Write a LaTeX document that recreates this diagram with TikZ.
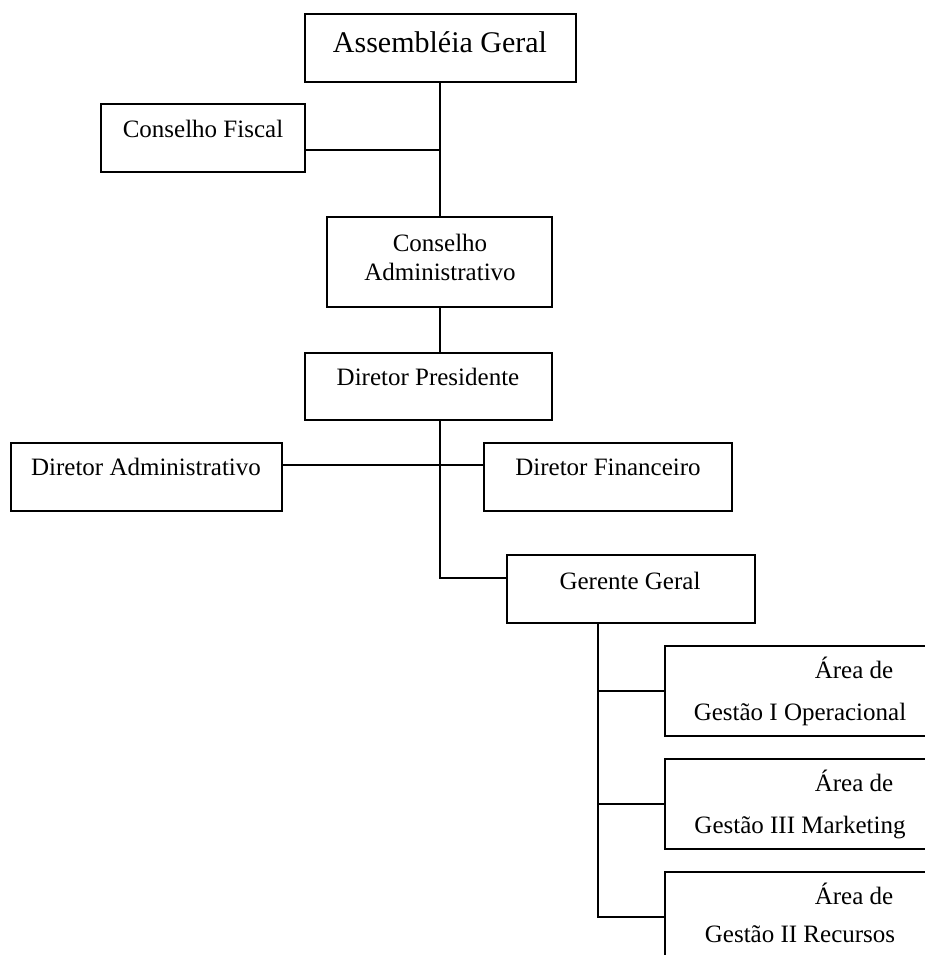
\documentclass[tikz,border=0pt]{standalone}
\usepackage{fontspec}
\setmainfont{Liberation Serif}
\begin{document}
\begin{tikzpicture}[x=1pt,y=-1pt,
  box/.style={draw=black,line width=1.4pt,rectangle,inner sep=0pt,minimum width=#1},
  txt/.style={anchor=base,inner sep=0pt,font=\fontsize{25}{30}\selectfont},
  link/.style={draw=black,line width=1.4pt}]
\clip (0,0) rectangle (925,955);
\fill[white] (0,0) rectangle (925,955);
% boxes
\node[box=271pt,minimum height=68pt] (ag) at (440.5,48) {};
\node[box=204pt,minimum height=68pt] (cf) at (203,138) {};
\node[box=225pt,minimum height=90pt] (ca) at (439.5,262) {};
\node[box=247pt,minimum height=67pt] (dp) at (428.5,386.5) {};
\node[box=271pt,minimum height=68pt] (da) at (146.5,477) {};
\node[box=248pt,minimum height=68pt] (df) at (608,477) {};
\node[box=248pt,minimum height=68pt] (gg) at (631,589) {};
\node[box=270pt,minimum height=90pt] (a1) at (800,691) {};
\node[box=270pt,minimum height=90pt] (a2) at (800,804) {};
\node[box=270pt,minimum height=90pt] (a3) at (800,917) {};
% texts
\node[txt,font=\fontsize{30}{36}\selectfont] (tag) at (440,53) {Assembléia Geral};
\node[txt] (tcf) at (203,138) {Conselho Fiscal};
\node[txt] (tca1) at (440,251) {Conselho};
\node[txt] (tca2) at (440,280) {Administrativo};
\node[txt] (tdp) at (428,385) {Diretor Presidente};
\node[txt] (tda) at (146,475) {Diretor Administrativo};
\node[txt] (tdf) at (608,475) {Diretor Financeiro};
\node[txt] (tgg) at (630,589) {Gerente Geral};
\node[txt] (ta1a) at (854,678) {Área de};
\node[txt] (ta1b) at (800,720) {Gestão I Operacional};
\node[txt] (ta2a) at (854,791) {Área de};
\node[txt] (ta2b) at (800,833) {Gestão III Marketing};
\node[txt] (ta3a) at (854,904) {Área de};
\node[txt] (ta3b) at (800,942) {Gestão II Recursos};
% junction coordinates
\coordinate (jcf) at (440,150);
\coordinate (jd) at (440,465);
\coordinate (jg) at (440,578);
\coordinate (ja) at (598,917);
% connectors
\draw[link] (ag.south -| jcf) -- (ca.north -| jcf);
\draw[link] (cf.east |- jcf) -- (jcf);
\draw[link] (ca.south -| jcf) -- (dp.north -| jcf);
\draw[link] (dp.south -| jcf) -- (jg) -- (gg.west |- jg);
\draw[link] (da.east |- jd) -- (df.west |- jd);
\draw[link] (gg.south -| ja) -- (ja) -- (a3.west);
\draw[link] (a1.west -| ja) -- (a1.west);
\draw[link] (a2.west -| ja) -- (a2.west);
\end{tikzpicture}
\end{document}
